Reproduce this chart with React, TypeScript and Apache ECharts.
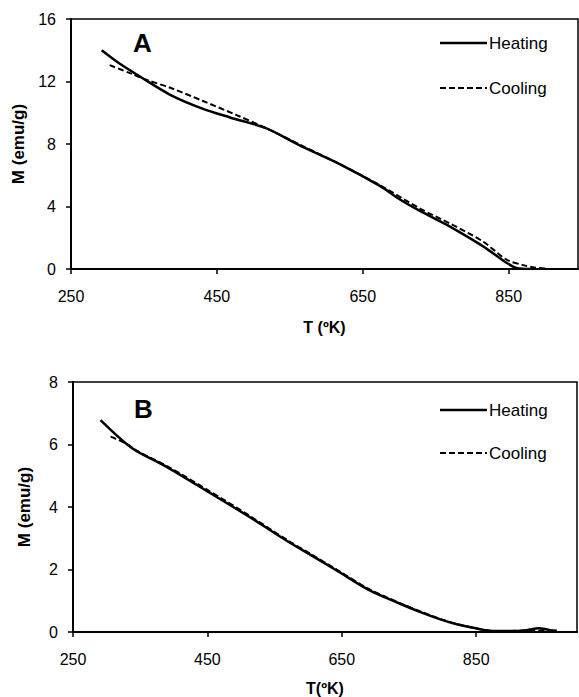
import React, { useEffect, useRef } from "react";
import * as echarts from "echarts";

// Panel A
const aHeatT = [292, 315, 340, 386, 431, 468, 518, 564, 619, 674, 701, 729, 770, 815, 847, 862, 880];
const aHeatM = [14.0, 13.2, 12.45, 11.15, 10.25, 9.7, 9.0, 7.9, 6.7, 5.3, 4.45, 3.7, 2.7, 1.45, 0.4, 0.05, 0];
const aCoolT = [303, 330, 354, 386, 431, 477, 518, 564, 619, 674, 729, 770, 815, 847, 870, 885, 900];
const aCoolM = [13.05, 12.55, 12.1, 11.6, 10.75, 9.85, 9.0, 7.95, 6.7, 5.35, 3.85, 2.9, 1.75, 0.6, 0.25, 0.1, 0.03];

// Panel B
const bHeatT = [291, 338, 388, 450, 512, 571, 601, 646, 690, 735, 769, 800, 824, 849, 870, 900, 925, 943, 960, 970];
const bHeatM = [6.78, 5.88, 5.3, 4.5, 3.69, 2.88, 2.5, 1.92, 1.35, 0.92, 0.62, 0.38, 0.23, 0.12, 0.04, 0.03, 0.06, 0.12, 0.06, 0.04];
const bCoolT = [306, 330, 345, 388, 450, 512, 571, 601, 646, 690, 735, 769, 800, 824, 849, 870, 900, 930, 960];
const bCoolM = [6.25, 6.02, 5.8, 5.33, 4.55, 3.73, 2.91, 2.53, 1.95, 1.38, 0.94, 0.64, 0.39, 0.24, 0.12, 0.04, 0.03, 0.05, 0.04];

const xTicks = [250, 450, 650, 850];
const legendNames = ["Heating", "Cooling"];

const pairs = (t: number[], m: number[]) => t.map((v, i) => [v, m[i]]);

const FONT = "Liberation Sans, Arial, sans-serif";

export default function App() {
  const ref = useRef<HTMLDivElement>(null);
  useEffect(() => {
    if (!ref.current) return;
    const chart = echarts.init(ref.current, undefined, { renderer: "svg" });
    const xAxisBase = (gridIndex: number, max: number, name: string, gap: number) => ({
      type: "value",
      gridIndex,
      min: 250,
      max,
      interval: 200,
      name,
      nameLocation: "middle",
      nameGap: gap,
      nameTextStyle: { color: "#000", fontWeight: "bold", fontSize: 16, fontFamily: FONT },
      axisLine: { show: true, lineStyle: { color: "#000", width: 2 } },
      axisTick: { show: true, inside: false, length: 5, customValues: xTicks, lineStyle: { color: "#000", width: 1.5 } },
      axisLabel: {
        color: "#000",
        fontSize: 16,
        fontFamily: FONT,
        margin: 19,
        customValues: xTicks,
        formatter: (v: number) => (xTicks.indexOf(v) >= 0 ? String(v) : ""),
      },
      splitLine: { show: false },
    });
    const yAxisBase = (gridIndex: number, max: number, interval: number, gap: number) => ({
      type: "value",
      gridIndex,
      min: 0,
      max,
      interval,
      name: "M (emu/g)",
      nameLocation: "middle",
      nameGap: gap,
      nameTextStyle: { color: "#000", fontWeight: "bold", fontSize: 17, fontFamily: FONT },
      axisLine: { show: true, lineStyle: { color: "#000", width: 2 } },
      axisTick: { show: true, inside: false, length: 5, lineStyle: { color: "#000", width: 1.5 } },
      axisLabel: { color: "#000", fontSize: 16, fontFamily: FONT, margin: 15 },
      splitLine: { show: false },
    });
    const heatStyle = { color: "#000", width: 2.5, type: "solid" };
    const coolStyle = { color: "#000", width: 2, type: [6, 3] };

    const legendGraphic = (y1: number, y2: number) => [
      {
        type: "line",
        shape: { x1: 440, y1, x2: 487, y2: y1 },
        style: { stroke: "#000", lineWidth: 2.5 },
      },
      {
        type: "text",
        x: 489,
        y: y1,
        style: { text: legendNames[0], fontSize: 17, fontFamily: FONT, fill: "#000", verticalAlign: "middle", align: "left" },
      },
      {
        type: "line",
        shape: { x1: 440, y1: y2, x2: 487, y2 },
        style: { stroke: "#000", lineWidth: 2, lineDash: [6, 3] },
      },
      {
        type: "text",
        x: 489,
        y: y2,
        style: { text: legendNames[1], fontSize: 17, fontFamily: FONT, fill: "#000", verticalAlign: "middle", align: "left" },
      },
    ];

    const mk = (name: string, xi: number, t: number[], m: number[], ls: any) => ({
      name,
      type: "line",
      xAxisIndex: xi,
      yAxisIndex: xi,
      data: pairs(t, m),
      smooth: 0.3,
      symbol: "none",
      lineStyle: ls,
      itemStyle: { color: "#000" },
    });

    chart.setOption({
      animation: false,
      backgroundColor: "#fff",
      grid: [
        { left: 71, top: 19, width: 507, height: 250, show: true, borderColor: "#000", borderWidth: 1.5, backgroundColor: "transparent" },
        { left: 73, top: 382, width: 504, height: 250, show: true, borderColor: "#000", borderWidth: 1.5, backgroundColor: "transparent" },
      ],
      xAxis: [xAxisBase(0, 945, "T (ºK)", 50), xAxisBase(1, 1000, "T(ºK)", 48)],
      yAxis: [yAxisBase(0, 16, 4, 42), yAxisBase(1, 8, 2, 40)],
      series: [
        mk("Heating", 0, aHeatT, aHeatM, heatStyle),
        mk("Cooling", 0, aCoolT, aCoolM, coolStyle),
        mk("Heating", 1, bHeatT, bHeatM, heatStyle),
        mk("Cooling", 1, bCoolT, bCoolM, coolStyle),
      ],
      graphic: [
        {
          type: "text",
          left: 133,
          top: 30,
          style: { text: "A", fontSize: 26, fontWeight: "bold", fontFamily: FONT, fill: "#000" },
        },
        {
          type: "text",
          left: 134,
          top: 396,
          style: { text: "B", fontSize: 26, fontWeight: "bold", fontFamily: FONT, fill: "#000" },
        },
        ...legendGraphic(43, 88),
        ...legendGraphic(410, 453),
      ],
    });
    return () => chart.dispose();
  }, []);
  return (
    <div
      ref={ref}
      style={{ position: "fixed", left: 0, top: 0, width: 579, height: 697, background: "#fff" }}
    />
  );
}
